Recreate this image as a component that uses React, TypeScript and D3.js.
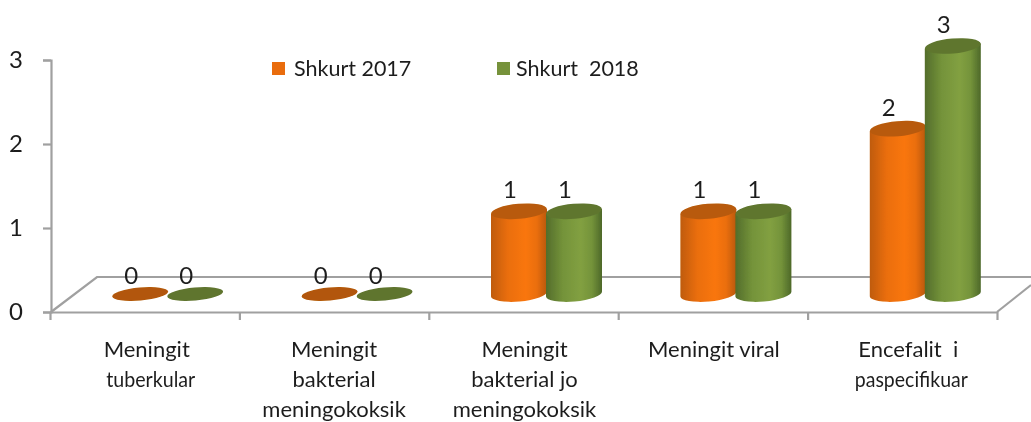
import { useEffect, useRef } from 'react';
import * as d3 from 'd3';

const categories = [
  ['Meningit', 'tuberkular'],
  ['Meningit', 'bakterial', 'meningokoksik'],
  ['Meningit', 'bakterial jo', 'meningokoksik'],
  ['Meningit viral'],
  ['Encefalit  i', 'paspecifikuar'],
];
const seriesNames = ['Shkurt 2017', 'Shkurt  2018'];
const values2017 = [0, 0, 1, 1, 2];
const values2018 = [0, 0, 1, 1, 3];
const yTicks = [0, 1, 2, 3];

const FONT = 'Lato, "Noto Sans", sans-serif';
const AXIS = '#a0a0a0';
const TEXT = '#1f1f1f';

const palette = [
  { id: 'cylOrange', edgeL: '#bf5b0a', midL: '#ea6e0c', mid: '#f9760c', edgeR: '#b85807', top: '#b85a08', flat: '#b25707', swatch: '#e96c0c' },
  { id: 'cylGreen', edgeL: '#536d2b', midL: '#74933a', mid: '#82a041', edgeR: '#4d6829', top: '#5f762f', flat: '#5f742e', swatch: '#76923b' },
];

const App = () => {
  const svgRef = useRef<SVGSVGElement>(null);

  useEffect(() => {
    const svg = d3.select(svgRef.current);
    svg.selectAll('*').remove();

    // gradients for the cylinder sides
    const defs = svg.append('defs');
    palette.forEach(p => {
      const g = defs.append('linearGradient').attr('id', p.id).attr('x1', 0).attr('x2', 1).attr('y1', 0).attr('y2', 0);
      g.append('stop').attr('offset', '0%').attr('stop-color', p.edgeL);
      g.append('stop').attr('offset', '30%').attr('stop-color', p.midL);
      g.append('stop').attr('offset', '62%').attr('stop-color', p.mid);
      g.append('stop').attr('offset', '82%').attr('stop-color', p.midL);
      g.append('stop').attr('offset', '100%').attr('stop-color', p.edgeR);
    });
    defs.append('filter').attr('id', 'soft')
      .append('feGaussianBlur').attr('stdDeviation', 0.4);

    const tickX = d3.scaleBand<number>().domain(d3.range(categories.length)).range([50, 997]);
    const planeX = d3.scaleBand<number>().domain(d3.range(categories.length)).range([73, 1020]);
    const seriesX = d3.scaleBand<number>().domain([0, 1]).range([-55, 55]);
    const axisY = d3.scaleLinear().domain([0, 3]).range([312, 60]);
    const barY = d3.scaleLinear().domain([0, 3]).range([294, 46]);

    const root = svg.append('g').attr('filter', 'url(#soft)');

    // floor of the 3d plot
    const floor = d3.line();
    root.append('path')
      .attr('d', floor([[51, 312], [97, 277], [1031, 277]]))
      .attr('fill', 'none').attr('stroke', AXIS).attr('stroke-width', 2.2);
    root.append('path')
      .attr('d', floor([[997, 312], [1031, 285]]))
      .attr('fill', 'none').attr('stroke', AXIS).attr('stroke-width', 2.2);

    // y axis
    const gy = root.append('g')
      .attr('transform', 'translate(51,0)')
      .call(d3.axisLeft(axisY).tickValues(yTicks).tickFormat(d3.format('d')).tickSize(8).tickPadding(20));
    gy.selectAll('path, line').attr('stroke', AXIS).attr('stroke-width', 2.2);
    gy.selectAll('text').attr('font-family', FONT).attr('font-size', 24).attr('fill', TEXT);

    // x axis
    const gx = root.append('g')
      .attr('transform', 'translate(0,312)')
      .call(d3.axisBottom(d3.scaleLinear().domain([50, 997]).range([50, 997]))
        .tickValues(d3.range(categories.length + 1).map(i => 50 + i * tickX.step()))
        .tickFormat(() => '').tickSize(8).tickSizeOuter(0));
    gx.selectAll('path, line').attr('stroke', AXIS).attr('stroke-width', 2.2);

    // cylinders
    const tilt = -5;
    const slope = Math.sin((tilt * Math.PI) / 180);
    [values2017, values2018].forEach((vals, s) => {
      const p = palette[s];
      vals.forEach((v, i) => {
        const cx = planeX(i)! + planeX.bandwidth() / 2 + seriesX(s)! + seriesX.bandwidth() / 2;
        const rx = 28;
        const ry = v === 0 ? 6.5 : 7.5;
        const yB = barY(0);
        const yT = barY(v);
        const g = root.append('g');
        if (v === 0) {
          g.append('ellipse')
            .attr('rx', rx).attr('ry', ry).attr('fill', p.flat)
            .attr('transform', `translate(${cx},${yB}) rotate(${tilt})`);
        } else {
          const dy = rx * slope;
          g.append('path')
            .attr('d', `M${cx - rx},${yT - dy} L${cx - rx},${yB - dy} A${rx},${ry} ${tilt} 0 0 ${cx + rx},${yB + dy} L${cx + rx},${yT + dy} Z`)
            .attr('fill', `url(#${p.id})`);
          g.append('ellipse')
            .attr('rx', rx).attr('ry', ry).attr('fill', p.top)
            .attr('transform', `translate(${cx},${yT}) rotate(${tilt})`);
        }
        g.append('text')
          .attr('x', cx - 9).attr('y', yT - (v === 0 ? 10 : 13))
          .attr('text-anchor', 'middle')
          .attr('font-family', FONT).attr('font-size', 24).attr('fill', TEXT)
          .text(v);
      });
    });

    // category labels, two lines run narrower than the rest in the original
    const labelNudge = [2, 0, 1, 1, 6];
    const narrowLines: Record<string, { width: number; dx: number }> = {
      tuberkular: { width: 89, dx: 4 },
      paspecifikuar: { width: 113, dx: 3 },
    };
    categories.forEach((lines, i) => {
      lines.forEach((line, k) => {
        const narrow = narrowLines[line];
        const t = root.append('text')
          .attr('x', tickX(i)! + tickX.bandwidth() / 2 + labelNudge[i] + (narrow ? narrow.dx : 0))
          .attr('y', 357 + k * 30)
          .attr('text-anchor', 'middle')
          .attr('font-family', FONT).attr('font-size', 22).attr('fill', TEXT)
          .style('white-space', 'pre')
          .text(line);
        if (narrow) t.attr('textLength', narrow.width).attr('lengthAdjust', 'spacingAndGlyphs');
      });
    });

    // legend
    const legendX = [272, 497];
    seriesNames.forEach((name, s) => {
      root.append('rect')
        .attr('x', legendX[s]).attr('y', 62).attr('width', 13).attr('height', 13)
        .attr('fill', palette[s].swatch);
      root.append('text')
        .attr('x', legendX[s] + (s === 0 ? 22 : 19)).attr('y', 76)
        .attr('font-family', FONT).attr('font-size', 21.5).attr('fill', TEXT)
        .style('white-space', 'pre')
        .text(name);
    });
  }, []);

  return <svg ref={svgRef} width={1031} height={422} style={{ position: 'absolute', left: 0, top: 0, background: '#fff' }} />;
};

export default App;
